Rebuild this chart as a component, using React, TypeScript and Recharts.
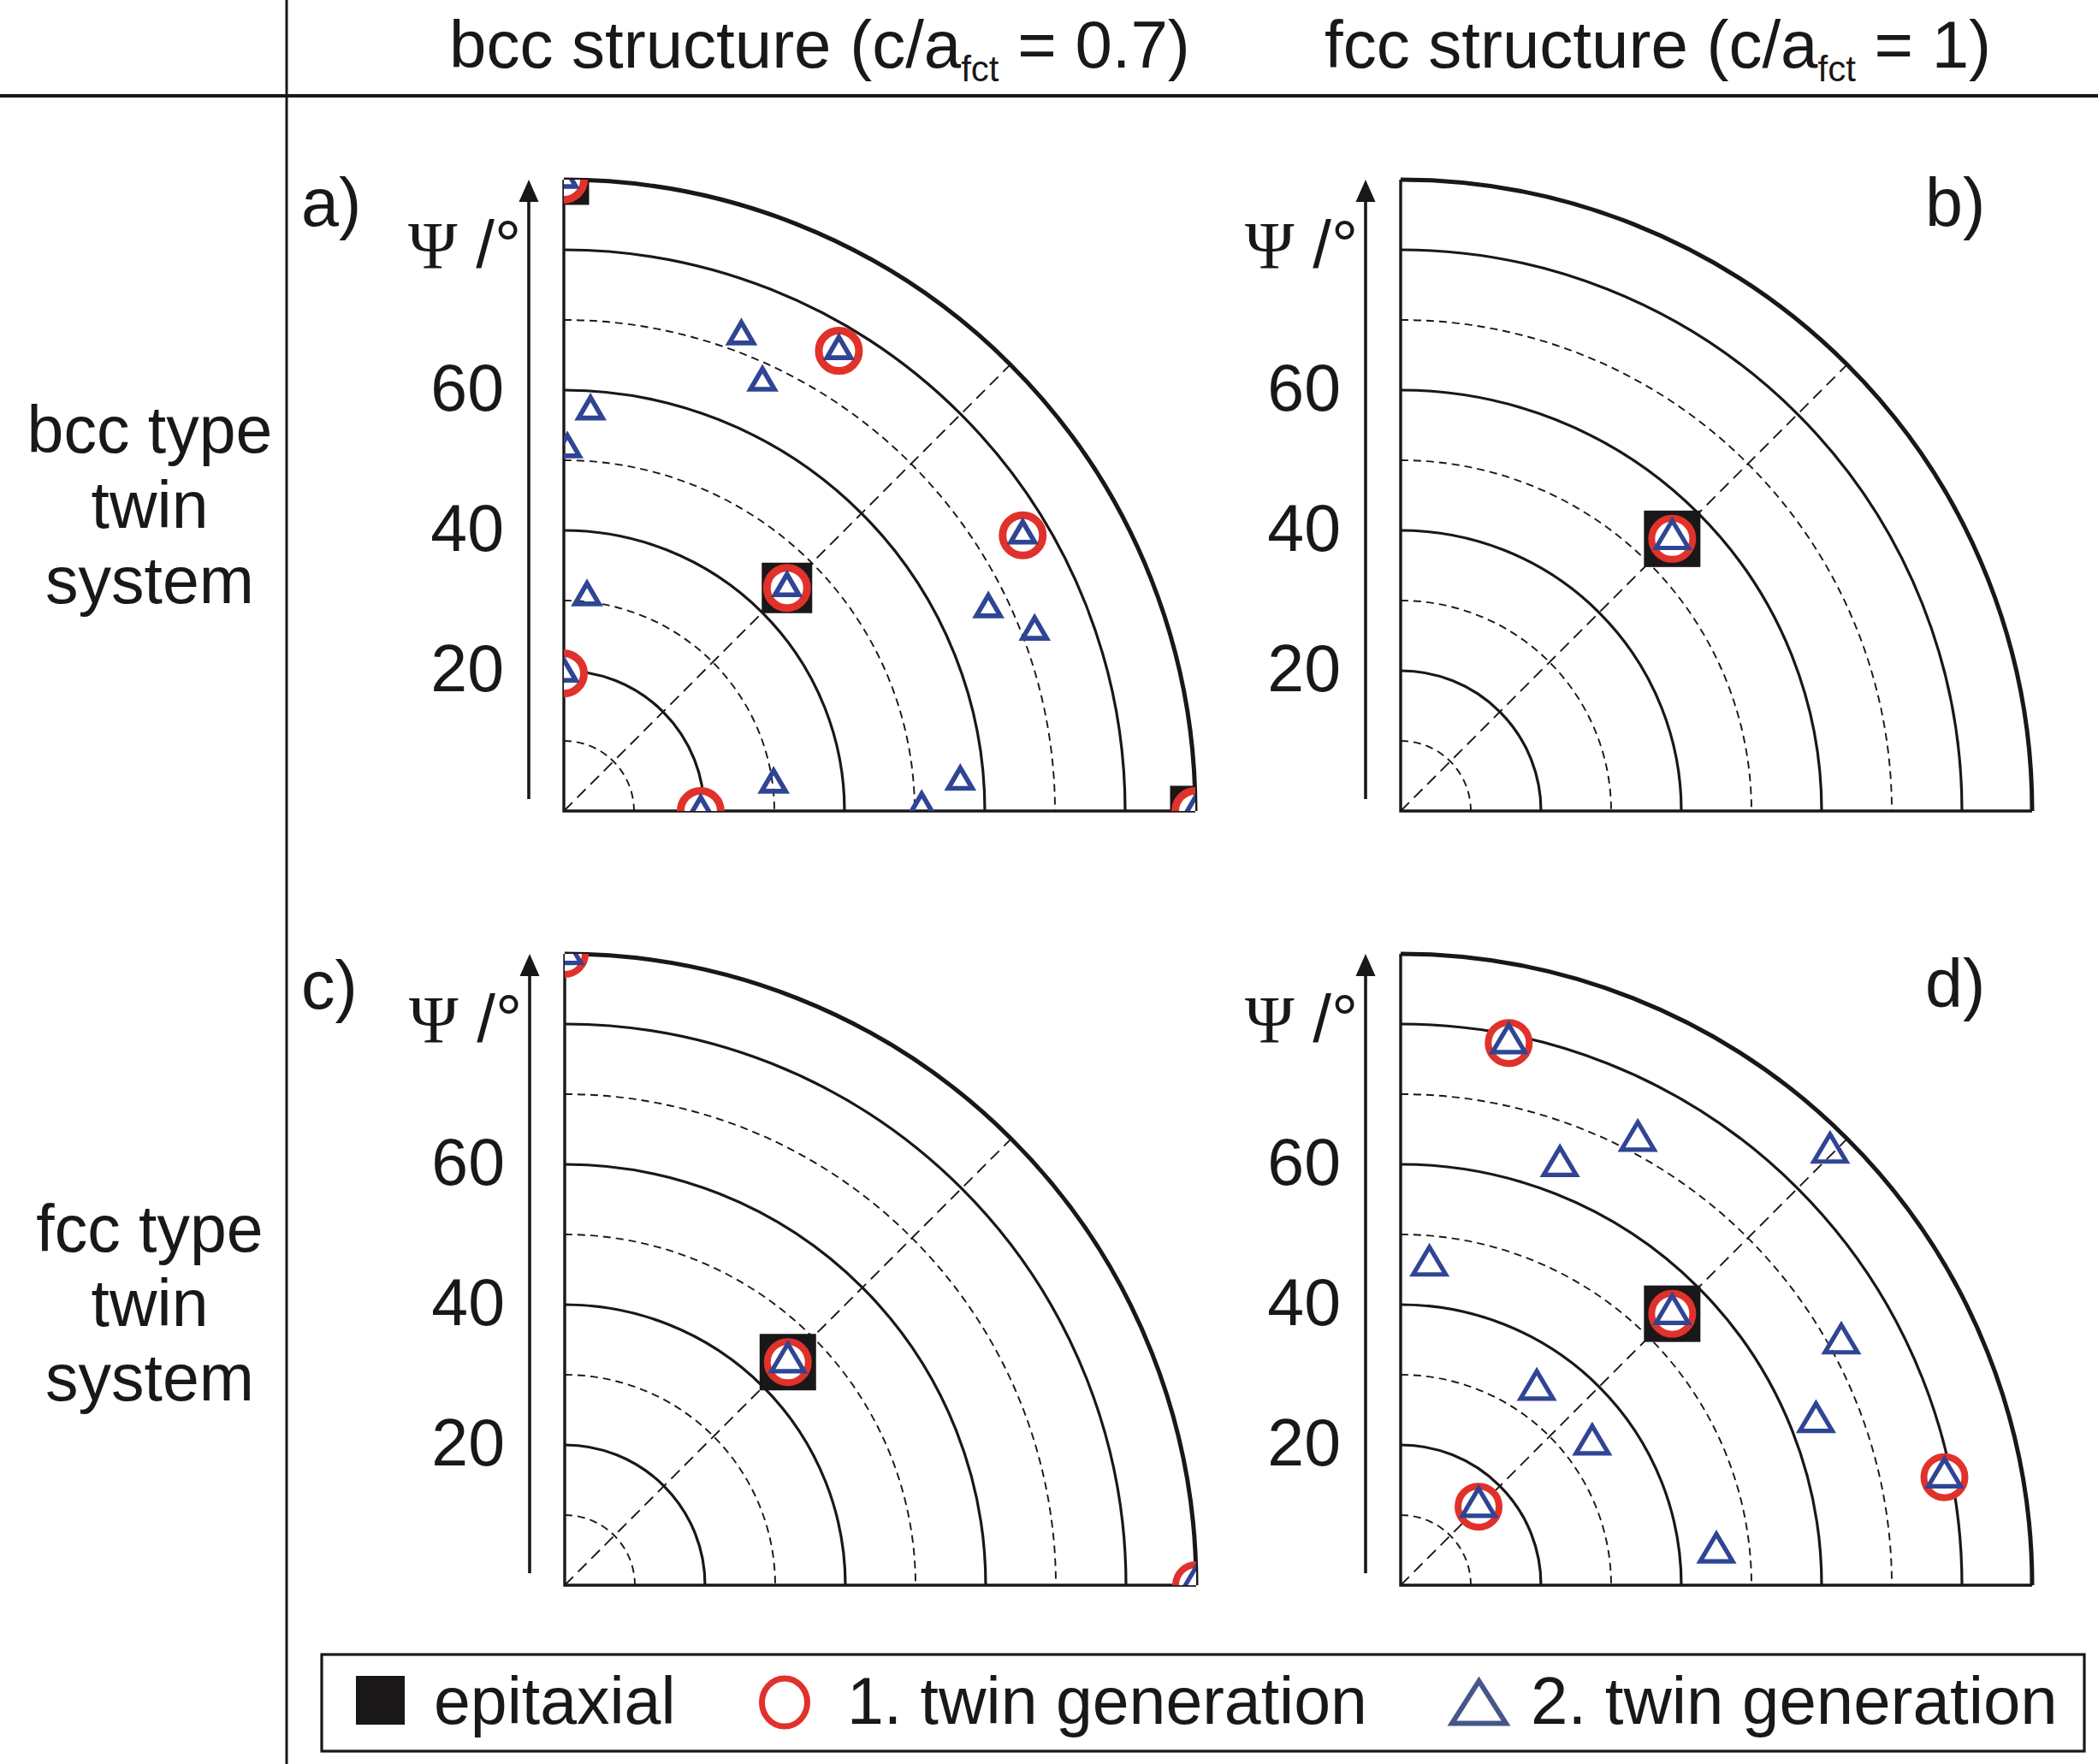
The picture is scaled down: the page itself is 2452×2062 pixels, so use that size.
import React from 'react';
import { ScatterChart, Scatter, XAxis, YAxis, ReferenceArea, ReferenceLine } from 'recharts';

const INK = '#1a1718';
const RED = '#e1312b';
const BLUE = '#2f4594';
const LEGEND_BLUE = '#45568a';
const SANS = '"Liberation Sans", Arial, Helvetica, sans-serif';
const SERIF = '"Liberation Serif", "Times New Roman", serif';

// ---- axis / grid values (degrees Ψ) ----
const DOMAIN: [number, number] = [0, 90];
const psiTicks = [20, 40, 60];
const solidRings = [20, 40, 60, 80];
const dashedRings = [10, 30, 50, 70];
const outerRing = 90;
const diagonalTip = 63.64; // Ψ = 90° on the 45° direction
const arrowX = -5;
const arrowFrom = 1.7;
const arrowTo = 90;

// ---- texts ----
const header1 = { main: 'bcc structure (c/a', sub: 'fct', tail: ' = 0.7)' };
const header2 = { main: 'fcc structure (c/a', sub: 'fct', tail: ' = 1)' };
const rowLabel1 = ['bcc type', 'twin', 'system'];
const rowLabel2 = ['fcc type', 'twin', 'system'];
const legendLabels = ['epitaxial', '1. twin generation', '2. twin generation'];

// ---- data: projected pole positions (x = Ψ·cosφ, y = Ψ·sinφ), degrees ----
const aEpitaxial = [
  { x: 0, y: 90 }, { x: 31.8, y: 31.8 }, { x: 90, y: 0 },
];
const aTwin1 = [
  { x: 0, y: 90 }, { x: 31.8, y: 31.8 }, { x: 90, y: 0 },
  { x: 39.2, y: 65.6 }, { x: 65.4, y: 39.3 }, { x: 0, y: 19.6 }, { x: 19.5, y: 0 },
];
const aTwin2 = [
  { x: 0, y: 90 }, { x: 31.8, y: 31.8 }, { x: 90, y: 0 },
  { x: 39.2, y: 65.6 }, { x: 65.4, y: 39.3 }, { x: 0, y: 19.6 }, { x: 19.5, y: 0 },
  { x: 25.3, y: 67.7 }, { x: 28.3, y: 61.1 }, { x: 3.8, y: 57.0 }, { x: 0.5, y: 51.6 },
  { x: 3.3, y: 30.5 }, { x: 60.5, y: 28.8 }, { x: 67.1, y: 25.6 },
  { x: 29.9, y: 3.8 }, { x: 56.5, y: 4.2 }, { x: 51.0, y: 0.5 },
];

const bEpitaxial = [{ x: 38.7, y: 38.8 }];
const bTwin1 = [{ x: 38.7, y: 38.8 }];
const bTwin2 = [{ x: 38.7, y: 38.8 }];

const cEpitaxial = [{ x: 31.8, y: 31.8 }];
const cTwin1 = [{ x: 0, y: 90 }, { x: 31.8, y: 31.8 }, { x: 90, y: 0 }];
const cTwin2 = [{ x: 0, y: 90 }, { x: 31.8, y: 31.8 }, { x: 90, y: 0 }];

const dEpitaxial = [{ x: 38.7, y: 38.7 }];
const dTwin1 = [
  { x: 38.7, y: 38.7 }, { x: 15.4, y: 77.3 }, { x: 77.5, y: 15.4 }, { x: 11.1, y: 11.2 },
];
const dTwin2 = [
  { x: 38.7, y: 38.7 }, { x: 15.4, y: 77.3 }, { x: 77.5, y: 15.4 }, { x: 11.1, y: 11.2 },
  { x: 33.8, y: 63.4 }, { x: 22.7, y: 59.8 }, { x: 61.2, y: 61.7 }, { x: 4.1, y: 45.6 },
  { x: 62.8, y: 34.5 }, { x: 19.4, y: 27.9 }, { x: 27.3, y: 20.1 }, { x: 59.2, y: 23.3 },
  { x: 45.0, y: 4.7 },
];

// ---- shapes ----
const arcShape = (sw: number, dash?: string) => (p: any) => {
  const { x, y, width, height } = p;
  return (
    <path
      d={`M${x},${y} A${width},${height} 0 0 1 ${x + width},${y + height}`}
      fill="none"
      stroke={INK}
      strokeWidth={sw}
      strokeDasharray={dash}
    />
  );
};

const diagonalShape = (p: any) => {
  const { x, y, width, height } = p;
  return (
    <line x1={x} y1={y + height} x2={x + width} y2={y} stroke={INK} strokeWidth={1.9} strokeDasharray="14 8" />
  );
};

const frameShape = (p: any) => {
  const { x, y, width, height } = p;
  return (
    <g>
      <path d={`M${x},${y} A${width},${height} 0 0 1 ${x + width},${y + height}`} fill="none" stroke={INK} strokeWidth={5} />
      <path d={`M${x},${y} L${x},${y + height} L${x + width},${y + height}`} fill="none" stroke={INK} strokeWidth={3.4} />
    </g>
  );
};

const arrowShape = (p: any) => {
  const { x1, y1, x2, y2 } = p;
  const top = Math.min(y1, y2);
  const bottom = Math.max(y1, y2);
  const hw = 11.5;
  const hh = 26;
  return (
    <g>
      <line x1={x1} y1={bottom} x2={x2} y2={top + hh - 2} stroke={INK} strokeWidth={3.6} />
      <path d={`M${x2},${top} L${x2 + hw},${top + hh} L${x2 - hw},${top + hh} Z`} fill={INK} />
    </g>
  );
};

const squareMarker = (size: number) => (p: any) => (
  <rect x={p.cx - size / 2} y={p.cy - size / 2} width={size} height={size} fill={INK} />
);

const ringMarker = (r: number, sw: number) => (p: any) => (
  <circle cx={p.cx} cy={p.cy} r={r} fill="#ffffff" stroke={RED} strokeWidth={sw} />
);

const triMarker = (w: number, h: number, sw: number) => (p: any) => (
  <path
    d={`M${p.cx},${p.cy - (2 * h) / 3} L${p.cx + w / 2},${p.cy + h / 3} L${p.cx - w / 2},${p.cy + h / 3} Z`}
    fill="none"
    stroke={BLUE}
    strokeWidth={sw}
  />
);

// ---- panels ----
const R = 738;
const AXW = 240;
const MT = 20;
const MB = 20;
const MR = 12;

type PanelCfg = {
  key: string;
  left: number;
  top: number;
  label: string;
  labelX: number;
  labelDy: number;
  epi: { x: number; y: number }[];
  t1: { x: number; y: number }[];
  t2: { x: number; y: number }[];
  sq: number;
  ringR: number;
  ringW: number;
  triW: number;
  triH: number;
  triSW: number;
};

const panels: PanelCfg[] = [
  { key: 'a', left: 659, top: 210, label: 'a)', labelX: 352, labelDy: 54, epi: aEpitaxial, t1: aTwin1, t2: aTwin2, sq: 59, ringR: 23.5, ringW: 9, triW: 28, triH: 24, triSW: 5.6 },
  { key: 'b', left: 1637, top: 210, label: 'b)', labelX: 2250, labelDy: 54, epi: bEpitaxial, t1: bTwin1, t2: bTwin2, sq: 66, ringR: 24, ringW: 8, triW: 38, triH: 32, triSW: 5.2 },
  { key: 'c', left: 660, top: 1115, label: 'c)', labelX: 352, labelDy: 64, epi: cEpitaxial, t1: cTwin1, t2: cTwin2, sq: 66, ringR: 24, ringW: 8, triW: 38, triH: 32, triSW: 5.2 },
  { key: 'd', left: 1637, top: 1115, label: 'd)', labelX: 2250, labelDy: 62, epi: dEpitaxial, t1: dTwin1, t2: dTwin2, sq: 66, ringR: 24, ringW: 8, triW: 38, triH: 32, triSW: 5.2 },
];

function PolePanel({ cfg }: { cfg: PanelCfg }) {
  return (
    <div style={{ position: 'absolute', left: cfg.left - AXW, top: cfg.top - MT }}>
      <ScatterChart
        width={AXW + R + MR}
        height={MT + R + MB}
        margin={{ top: MT, right: MR, bottom: MB, left: 0 }}
      >
        <XAxis type="number" dataKey="x" domain={DOMAIN} hide allowDataOverflow />
        <YAxis
          type="number"
          dataKey="y"
          domain={DOMAIN}
          ticks={psiTicks}
          interval={0}
          width={AXW}
          allowDataOverflow
          axisLine={false}
          tickLine={false}
          tickSize={0}
          tickMargin={70}
          tick={{ fontSize: 77, fill: INK, fontFamily: SANS, dy: -3 }}
        />
        {dashedRings.map((r) => (
          <ReferenceArea key={'d' + r} x1={0} x2={r} y1={0} y2={r} shape={arcShape(1.9, '9 6')} />
        ))}
        {solidRings.map((r) => (
          <ReferenceArea key={'s' + r} x1={0} x2={r} y1={0} y2={r} shape={arcShape(3.2)} />
        ))}
        <ReferenceArea x1={0} x2={diagonalTip} y1={0} y2={diagonalTip} shape={diagonalShape} />
        <ReferenceArea x1={0} x2={outerRing} y1={0} y2={outerRing} shape={frameShape} />
        <ReferenceLine
          segment={[{ x: arrowX, y: arrowFrom }, { x: arrowX, y: arrowTo }]}
          ifOverflow="visible"
          shape={arrowShape}
        />
        <Scatter name="epitaxial" data={cfg.epi} shape={squareMarker(cfg.sq)} isAnimationActive={false} />
        <Scatter name="1. twin generation" data={cfg.t1} shape={ringMarker(cfg.ringR, cfg.ringW)} isAnimationActive={false} />
        <Scatter name="2. twin generation" data={cfg.t2} shape={triMarker(cfg.triW, cfg.triH, cfg.triSW)} isAnimationActive={false} />
      </ScatterChart>
    </div>
  );
}

function Header({ x, h }: { x: number; h: { main: string; sub: string; tail: string } }) {
  return (
    <text x={x} y={79} fontFamily={SANS} fontSize={78} fill={INK}>
      {h.main}
      <tspan fontSize={42} dy={16}>{h.sub}</tspan>
      <tspan fontSize={78} dy={-16}>{h.tail}</tspan>
    </text>
  );
}

export default function App() {
  return (
    <div style={{ position: 'absolute', left: 0, top: 0, width: 2452, height: 2062, background: '#ffffff', overflow: 'hidden' }}>
      <svg width={2452} height={2062} style={{ position: 'absolute', left: 0, top: 0 }}>
        <line x1={335} y1={0} x2={335} y2={2062} stroke={INK} strokeWidth={3} />
        <line x1={0} y1={112} x2={2452} y2={112} stroke={INK} strokeWidth={4} />
        <Header x={525} h={header1} />
        <Header x={1548} h={header2} />
        {rowLabel1.map((t, i) => (
          <text key={'r1' + i} x={175} y={529 + i * 88} textAnchor="middle" fontFamily={SANS} fontSize={77} fill={INK}>{t}</text>
        ))}
        {rowLabel2.map((t, i) => (
          <text key={'r2' + i} x={175} y={1463 + i * 87} textAnchor="middle" fontFamily={SANS} fontSize={77} fill={INK}>{t}</text>
        ))}
        {panels.map((p) => (
          <g key={'lab' + p.key}>
            <text x={p.labelX} y={p.top + p.labelDy} fontFamily={SANS} fontSize={79} fill={INK}>{p.label}</text>
            <text x={p.left - 182} y={p.top + 103} fill={INK}>
              <tspan fontFamily={SERIF} fontSize={78}>Ψ</tspan>
              <tspan fontFamily={SANS} fontSize={78}> /°</tspan>
            </text>
          </g>
        ))}
        {/* legend */}
        <rect x={376} y={1934} width={2060} height={113} fill="none" stroke={INK} strokeWidth={3.2} />
        <rect x={416} y={1959} width={57} height={57} fill={INK} />
        <text x={507} y={2015} fontFamily={SANS} fontSize={77} fill={INK}>{legendLabels[0]}</text>
        <ellipse cx={917} cy={1990} rx={26.5} ry={28} fill="none" stroke={RED} strokeWidth={7} />
        <text x={990} y={2015} fontFamily={SANS} fontSize={77} fill={INK}>{legendLabels[1]}</text>
        <path d="M1728.5,1965 L1760,2014.5 L1697,2014.5 Z" fill="none" stroke={LEGEND_BLUE} strokeWidth={6} />
        <text x={1789} y={2015} fontFamily={SANS} fontSize={78} fill={INK}>{legendLabels[2]}</text>
      </svg>
      {panels.map((p) => (
        <PolePanel key={p.key} cfg={p} />
      ))}
    </div>
  );
}
